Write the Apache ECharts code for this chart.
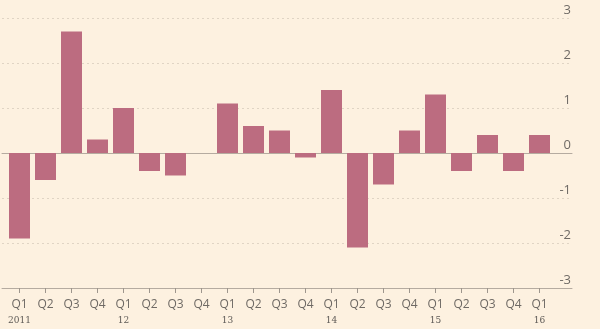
<!DOCTYPE html>
<html>
<head>
<meta charset="utf-8">
<script src="https://cdn.jsdelivr.net/npm/echarts@6/dist/echarts.min.js"></script>
<style>
  html, body { margin: 0; padding: 0; background: #fdf1e0; }
  #chart { width: 600px; height: 329px; }
</style>
</head>
<body>
<div id="chart"></div>
<script>
// Quarterly change, Q1 2011 – Q1 2016
const quarters = ['Q1','Q2','Q3','Q4','Q1','Q2','Q3','Q4','Q1','Q2','Q3','Q4',
                  'Q1','Q2','Q3','Q4','Q1','Q2','Q3','Q4','Q1'];
const years = ['2011','','','','12','','','','13','','','',
               '14','','','','15','','','','16'];
const values = [-1.9, -0.6, 2.7, 0.3, 1.0, -0.4, -0.5, 0, 1.1, 0.6, 0.5, -0.1,
                1.4, -2.1, -0.7, 0.5, 1.3, -0.4, 0.4, -0.4, 0.4];
const yTicks = [-3, -2, -1, 0, 1, 2, 3];

const chart = echarts.init(document.getElementById('chart'));

const frameColor = '#b5aba0';
const textColor = '#6f6a65';

chart.setOption({
  backgroundColor: '#fdf1e0',
  animation: false,
  grid: [
    // frame: gridlines, baseline and zero line
    { left: 2, right: 28, top: 18, bottom: 41 },
    // bars
    { left: 6.5, width: 546, top: 18, bottom: 41 }
  ],
  xAxis: [
    {
      gridIndex: 0, type: 'value', min: 0, max: 1, position: 'bottom',
      axisLine: { show: true, onZero: false, lineStyle: { color: frameColor, width: 1 } },
      axisTick: { show: false }, axisLabel: { show: false }, splitLine: { show: false }
    },
    {
      gridIndex: 0, type: 'value', min: 0, max: 1, position: 'top',
      axisLine: { show: true, onZero: true, lineStyle: { color: frameColor, width: 1 } },
      axisTick: { show: false }, axisLabel: { show: false }, splitLine: { show: false }
    },
    {
      gridIndex: 1, type: 'category', data: quarters, position: 'bottom',
      axisLine: { show: false, onZero: false },
      axisTick: { show: true, alignWithLabel: true, length: 5, lineStyle: { color: '#9e968d' } },
      axisLabel: {
        interval: 0,
        margin: 9,
        formatter: function (v, i) {
          return years[i] ? '{q|' + v + '}\n{y|' + years[i] + '}' : '{q|' + v + '}';
        },
        rich: {
          q: { fontFamily: 'Open Sans', fontSize: 12, color: textColor, lineHeight: 16 },
          y: { fontFamily: 'DejaVu Serif', fontSize: 9, color: '#5e5a56', lineHeight: 16 }
        }
      },
      splitLine: { show: false }
    }
  ],
  yAxis: [
    {
      gridIndex: 0, type: 'value', min: -3, max: 3, interval: 1, position: 'right',
      axisLine: { show: false }, axisTick: { show: false },
      axisLabel: {
        inside: true, margin: 1, verticalAlign: 'bottom', padding: [0, 0, 1, 0],
        fontFamily: 'Open Sans', fontSize: 13, color: textColor,
        formatter: function (v) { return yTicks.indexOf(v) >= 0 ? String(v) : ''; }
      },
      splitLine: { show: true, lineStyle: { color: '#e0d4c4', type: [2, 3], width: 1 } }
    },
    {
      gridIndex: 1, type: 'value', min: -3, max: 3, interval: 1,
      axisLine: { show: false }, axisTick: { show: false },
      axisLabel: { show: false }, splitLine: { show: false }
    }
  ],
  series: [
    {
      type: 'bar',
      xAxisIndex: 2, yAxisIndex: 1,
      data: values,
      barWidth: 21,
      itemStyle: { color: '#bc6c80' },
      z: 1
    }
  ]
});
</script>
</body>
</html>
